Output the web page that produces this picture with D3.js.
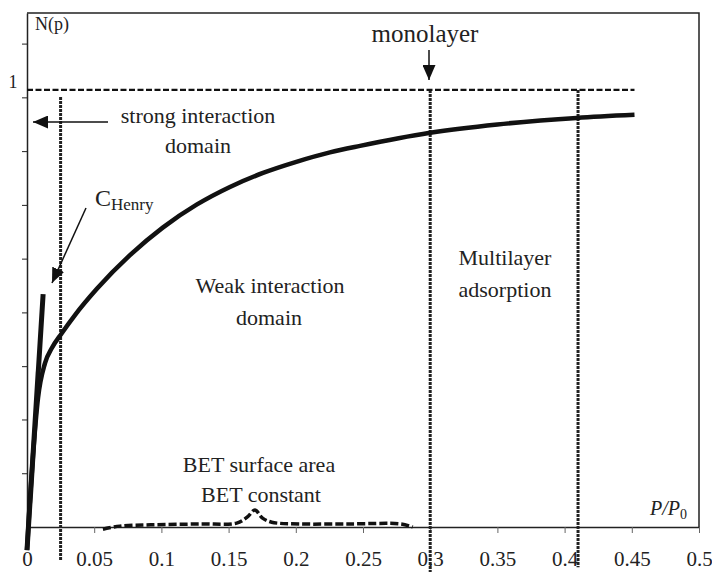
<!DOCTYPE html>
<html>
<head>
<meta charset="utf-8">
<script src="https://cdn.jsdelivr.net/npm/d3@7"></script>
<style>
  body { margin: 0; background: #fff; }
</style>
</head>
<body>
<div id="chart-area"></div>
<script>
// isotherm N(p) vs P/P0
const isoP = [0, 0.0022, 0.0045, 0.0082, 0.0134, 0.0186, 0.026, 0.0357, 0.052, 0.0766, 0.101, 0.1265, 0.151, 0.1756, 0.201, 0.2254, 0.2478, 0.3, 0.35, 0.409, 0.452]
const isoN = [-0.053, 0.062, 0.165, 0.295, 0.375, 0.41, 0.444, 0.485, 0.545, 0.622, 0.685, 0.738, 0.778, 0.81, 0.836, 0.857, 0.872, 0.902, 0.921, 0.936, 0.943]

// Henry slope at the origin
const henryP = [0, 0.012]
const henryN = [-0.053, 0.533]

// BET range sketch
const betP = [0.0565, 0.069, 0.092, 0.129, 0.156, 0.164, 0.1696, 0.175, 0.182, 0.203, 0.24, 0.278, 0.287]
const betN = [-0.005, 0.002, 0.005, 0.007, 0.009, 0.023, 0.039, 0.021, 0.011, 0.007, 0.007, 0.007, 0]

// domain boundaries (x) and their vertical extent
const dividerP = [0.025, 0.3, 0.41]
const dividerTop = [0.984, 1, 1]
const dividerBottom = [-0.076, -0.103, -0.092]

const monolayerN = 1
const monolayerEnd = 0.452

const xTicks = [0, 0.05, 0.1, 0.15, 0.2, 0.25, 0.3, 0.35, 0.4, 0.45, 0.5]
const xTickLabels = ["0", "0.05", "0.1", "0.15", "0.2", "0.25", "0.3", "0.35", "0.4", "0.45", "0.5"]
const yTicks = [0.123, 0.246, 0.368, 0.491, 0.614, 0.737, 0.86, 0.983, 1.106]

const MARGIN = { LEFT: 27, RIGHT: 13, TOP: 13, BOTTOM: 45 }
const WIDTH = 712 - MARGIN.LEFT - MARGIN.RIGHT
const HEIGHT = 572 - MARGIN.TOP - MARGIN.BOTTOM
const SERIF = '"Liberation Serif", serif'

const svg = d3.select("#chart-area").append("svg")
  .attr("width", 712)
  .attr("height", 572)

const defs = svg.append("defs")
const arrow = (id, len, w) => defs.append("marker")
  .attr("id", id)
  .attr("markerUnits", "userSpaceOnUse")
  .attr("markerWidth", len)
  .attr("markerHeight", w)
  .attr("refX", len)
  .attr("refY", w / 2)
  .attr("orient", "auto")
  .append("path")
    .attr("d", `M0,0 L${len},${w / 2} L0,${w} Z`)
    .attr("fill", "#111")
arrow("head", 15, 13)

const g = svg.append("g")
  .attr("transform", `translate(${MARGIN.LEFT}, ${MARGIN.TOP})`)

const x = d3.scaleLinear().domain([0, 0.5]).range([0, WIDTH])
const y = d3.scaleLinear().domain([0, 1.176]).range([HEIGHT, 0])

// frame (top + right)
g.append("path")
  .attr("d", `M0,0 H${WIDTH} V${HEIGHT}`)
  .attr("fill", "none")
  .attr("stroke", "#222")
  .attr("stroke-width", 1.5)

// axes
const xAxisGroup = g.append("g")
  .attr("transform", `translate(0, ${HEIGHT})`)
  .style("color", "#222")
  .call(d3.axisBottom(x).tickValues(xTicks).tickSize(6).tickSizeOuter(0)
    .tickFormat((d, i) => xTickLabels[i]))
xAxisGroup.select(".domain").attr("stroke-width", 1.5)
xAxisGroup.selectAll("line").attr("stroke", "#666")
xAxisGroup.selectAll("text")
  .attr("y", 39)
  .attr("dy", null)
  .style("font-family", SERIF)
  .style("font-size", "21px")
  .attr("fill", "#222")

const yAxisGroup = g.append("g")
  .style("color", "#222")
  .call(d3.axisLeft(y).tickValues(yTicks).tickSize(5).tickSizeOuter(0).tickFormat(""))
yAxisGroup.select(".domain").attr("stroke-width", 1.5)

// dividers
g.selectAll(".divider")
  .data(dividerP)
  .enter().append("line")
    .attr("class", "divider")
    .attr("x1", d => x(d))
    .attr("x2", d => x(d))
    .attr("y1", (d, i) => y(dividerTop[i]))
    .attr("y2", (d, i) => y(dividerBottom[i]))
    .attr("stroke", "#222")
    .attr("stroke-width", 3)
    .attr("stroke-dasharray", "3,1")

// monolayer line N = 1
g.append("line")
  .attr("x1", x(0))
  .attr("x2", x(monolayerEnd))
  .attr("y1", y(monolayerN))
  .attr("y2", y(monolayerN))
  .attr("stroke", "#111")
  .attr("stroke-width", 2.2)
  .attr("stroke-dasharray", "6,2.5")

const line = d3.line()
  .x(d => x(d[0]))
  .y(d => y(d[1]))

// isotherm
g.append("path")
  .datum(isoP.map((p, i) => [p, isoN[i]]))
  .attr("d", line.curve(d3.curveMonotoneX))
  .attr("fill", "none")
  .attr("stroke", "#111")
  .attr("stroke-width", 4.5)

// Henry slope
g.append("path")
  .datum(henryP.map((p, i) => [p, henryN[i]]))
  .attr("d", line.curve(d3.curveLinear))
  .attr("fill", "none")
  .attr("stroke", "#111")
  .attr("stroke-width", 5)

// BET
g.append("path")
  .datum(betP.map((p, i) => [p, betN[i]]))
  .attr("d", line.curve(d3.curveCatmullRom))
  .attr("fill", "none")
  .attr("stroke", "#111")
  .attr("stroke-width", 3.5)
  .attr("stroke-dasharray", "8,3")

// annotation arrows
const arrows = [
  [108, 122, 33, 122],
  [429, 50, 429, 80],
  [86, 208, 52, 283]
]
svg.selectAll(".arrow")
  .data(arrows)
  .enter().append("line")
    .attr("class", "arrow")
    .attr("x1", d => d[0]).attr("y1", d => d[1])
    .attr("x2", d => d[2]).attr("y2", d => d[3])
    .attr("stroke", "#111")
    .attr("stroke-width", 1.5)
    .attr("marker-end", "url(#head)")

// texts
const label = (tx, ty, str, size, anchor) => svg.append("text")
  .attr("x", tx)
  .attr("y", ty)
  .style("font-family", SERIF)
  .style("font-size", size + "px")
  .attr("fill", "#222")
  .attr("text-anchor", anchor || "middle")
  .text(str)

label(35, 30, "N(p)", 18, "start")
label(13, 88, "1", 18)
label(425, 42, "monolayer", 25)
label(198, 123, "strong interaction", 22)
label(198, 153, "domain", 22)
label(270, 293, "Weak interaction", 22)
label(269, 325, "domain", 22)
label(505, 265, "Multilayer", 22)
label(505, 297, "adsorption", 22)
label(259, 472, "BET surface area", 22)
label(261, 502, "BET constant", 22)

const cH = label(95, 206, "C", 24, "start")
cH.append("tspan")
  .style("font-size", "17px")
  .attr("dy", 4)
  .text("Henry")

const pp = label(650, 515, "P/P", 20, "start")
  .style("font-style", "italic")
pp.append("tspan")
  .style("font-size", "14px")
  .style("font-style", "normal")
  .attr("dy", 4)
  .text("0")
</script>
</body>
</html>
